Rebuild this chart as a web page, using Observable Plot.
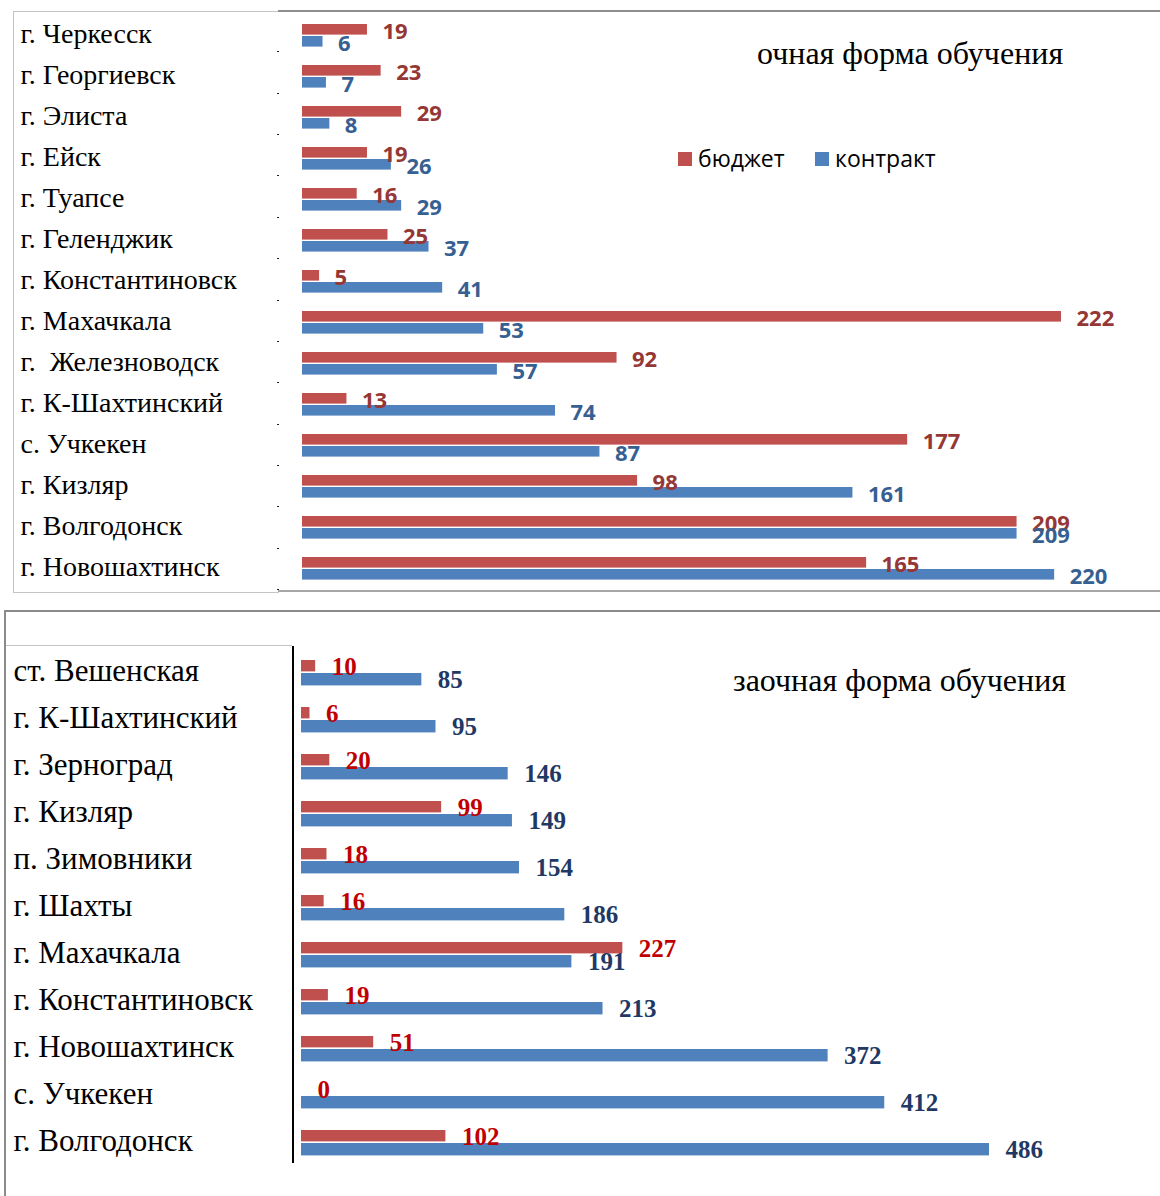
<!DOCTYPE html>
<html><head><meta charset="utf-8">
<script src="https://cdn.jsdelivr.net/npm/d3@7"></script>
<script src="https://cdn.jsdelivr.net/npm/@observablehq/plot@0.6"></script>
<style>
body{margin:0;background:#fff;}
#wrap{position:relative;width:1160px;height:1196px;overflow:hidden;background:#fff;}
.ln{position:absolute;}
.title{position:absolute;font-family:"Liberation Serif","Times New Roman",serif;font-size:32px;color:#000;white-space:nowrap;line-height:1;}
.leg{position:absolute;font-family:"Open Sans",sans-serif;font-size:23px;color:#000;white-space:nowrap;line-height:1;display:flex;align-items:center;}
.sw{display:inline-block;width:14px;height:14px;margin-right:6px;}
#p1,#p2{position:absolute;left:0;}
</style></head><body>
<div id="wrap">
  <div id="p1" style="top:0"></div>
  <div id="p2" style="top:600px"></div>
  <!-- top panel frame -->
  <div class="ln" style="left:13px;top:11px;width:265px;height:580px;border:1.5px solid #c4c4c4;border-right:none;"></div>
  <div class="ln" style="left:277px;top:11px;width:2px;height:580px;background:repeating-linear-gradient(to bottom, transparent 0px, transparent 40.4px, #222 40.4px, #222 41.36px);"></div>
  <div class="ln" style="left:278px;top:10px;width:882px;height:0;border-top:2.5px solid #8e8e8e;"></div>
  <div class="ln" style="left:278px;top:590px;width:882px;height:0;border-top:2px solid #a6a6a6;"></div>
  <!-- bottom panel frame -->
  <div class="ln" style="left:4px;top:610px;width:1156px;height:0;border-top:2.5px solid #8a8a8a;"></div>
  <div class="ln" style="left:4px;top:610px;width:0;height:586px;border-left:2.5px solid #8a8a8a;"></div>
  <div class="ln" style="left:6px;top:645px;width:286px;height:0;border-top:1.5px solid #c4c4c4;"></div>
  <div class="ln" style="left:292px;top:646px;width:0;height:517px;border-left:2px solid #000;"></div>
  <div class="title" style="left:757px;top:37px;">очная форма обучения</div>
  <div class="title" style="left:733px;top:664px;">заочная форма обучения</div>
  <div class="leg" style="left:678px;top:147px;"><span class="sw" style="background:#C0504D"></span>бюджет</div>
  <div class="leg" style="left:815px;top:147px;"><span class="sw" style="background:#4F81BD"></span>контракт</div>
</div>
<script>
// очная форма обучения
const cities1 = ["г. Черкесск","г. Георгиевск","г. Элиста","г. Ейск","г. Туапсе","г. Геленджик","г. Константиновск","г. Махачкала","г.\u00a0\u00a0Железноводск","г. К-Шахтинский","с. Учкекен","г. Кизляр","г. Волгодонск","г. Новошахтинск"];
const budget1 = [19,23,29,19,16,25,5,222,92,13,177,98,209,165];
const contract1 = [6,7,8,26,29,37,41,53,57,74,87,161,209,220];

// заочная форма обучения
const cities2 = ["ст. Вешенская","г. К-Шахтинский","г. Зерноград","г. Кизляр","п. Зимовники","г. Шахты","г. Махачкала","г. Константиновск","г. Новошахтинск","с. Учкекен","г. Волгодонск"];
const budget2 = [10,6,20,99,18,16,227,19,51,0,102];
const contract2 = [85,95,146,149,154,186,191,213,372,412,486];

const rows1 = cities1.map((c,i)=>({city:c,budget:budget1[i],contract:contract1[i]}));
const rows2 = cities2.map((c,i)=>({city:c,budget:budget2[i],contract:contract2[i]}));

const RED = "#C0504D", BLUE = "#4F81BD";

const ml1 = 302;
const p1 = Plot.plot({
  width:1160, height:600, marginTop:11, marginBottom:10, marginLeft:ml1, marginRight:99,
  style:{background:"transparent", overflow:"visible"},
  x:{domain:[0,222], axis:null},
  y:{domain:cities1, padding:0, label:null, axis:null},
  marks:[
    Plot.barX(rows1,{y:"city", x:"budget", fill:RED, insetTop:10, insetBottom:20.4}),
    Plot.barX(rows1,{y:"city", x:"contract", fill:BLUE, insetTop:22, insetBottom:8.4}),
    Plot.text(rows1,{y:"city", x:"budget", text:d=>String(d.budget), textAnchor:"start", dx:15, dy:-3.5, fill:"#953735", fontSize:22, fontWeight:"bold", fontFamily:"Open Sans"}),
    Plot.text(rows1,{y:"city", x:"contract", text:d=>String(d.contract), textAnchor:"start", dx:15, dy:8.5, fill:"#376092", fontSize:22, fontWeight:"bold", fontFamily:"Open Sans"}),
    Plot.axisY({tickSize:0, tickPadding:0, textAnchor:"start", dx:20-ml1, dy:-0.5, fontSize:28, fontFamily:"Liberation Serif", fill:"#000", label:null})
  ]
});
document.getElementById("p1").appendChild(p1);

const ml2 = 301;
const p2 = Plot.plot({
  width:1160, height:596, marginTop:45, marginBottom:27, marginLeft:ml2, marginRight:171,
  style:{background:"transparent", overflow:"visible"},
  x:{domain:[0,486], axis:null},
  y:{domain:cities2, padding:0, label:null, axis:null},
  marks:[
    Plot.barX(rows2,{y:"city", x:"budget", fill:RED, insetTop:11, insetBottom:24.6}),
    Plot.barX(rows2,{y:"city", x:"contract", fill:BLUE, insetTop:24, insetBottom:10.6}),
    Plot.text(rows2,{y:"city", x:"budget", text:d=>String(d.budget), textAnchor:"start", dx:16, dy:-6, fill:"#C00000", fontSize:25, fontWeight:"bold", fontFamily:"Liberation Serif"}),
    Plot.text(rows2,{y:"city", x:"contract", text:d=>String(d.contract), textAnchor:"start", dx:16, dy:7, fill:"#1F3864", fontSize:25, fontWeight:"bold", fontFamily:"Liberation Serif"}),
    Plot.axisY({tickSize:0, tickPadding:0, textAnchor:"start", dx:13-ml2, dy:-2, fontSize:31, fontFamily:"Liberation Serif", fill:"#000", label:null})
  ]
});
document.getElementById("p2").appendChild(p2);
</script>
</body></html>
